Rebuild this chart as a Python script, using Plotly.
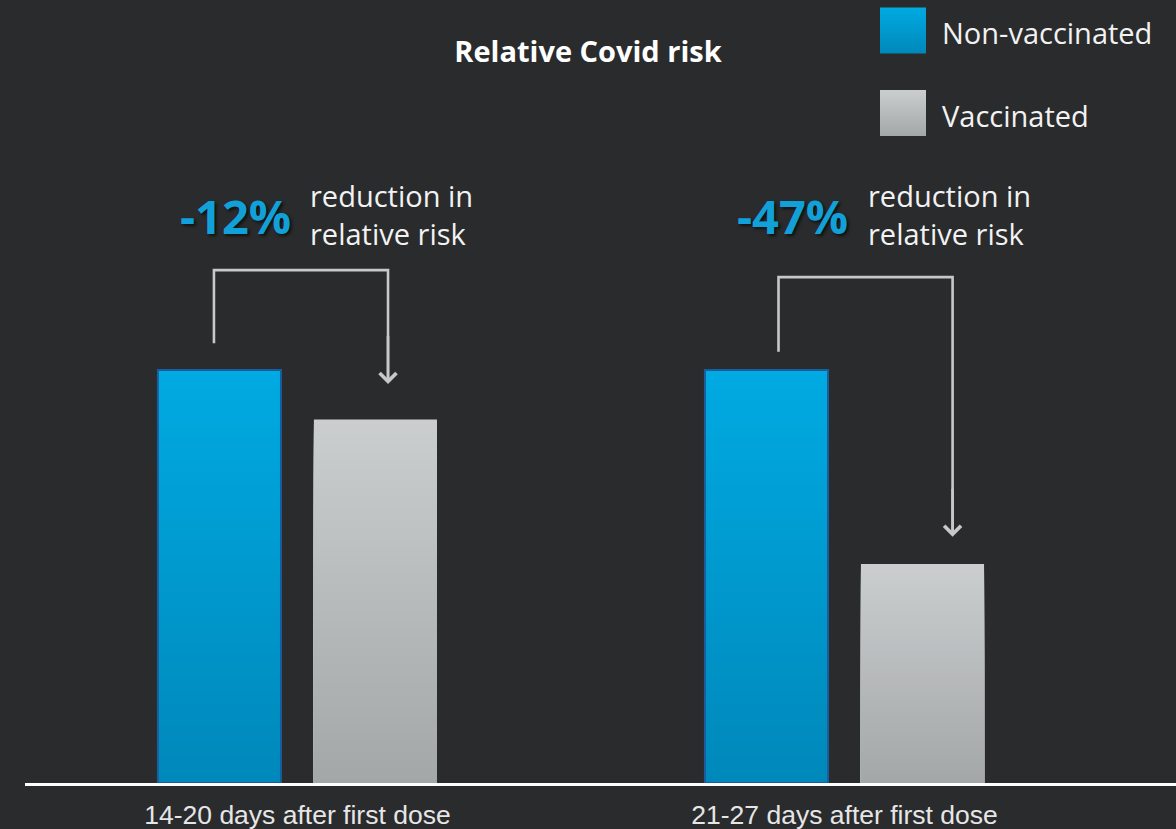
import plotly.graph_objects as go

# ---- data ----
periods = ["14-20 days after first dose", "21-27 days after first dose"]
series_names = ["Non-vaccinated", "Vaccinated"]
non_vaccinated = [1.00, 1.00]
vaccinated = [0.88, 0.53]
reduction_labels = ["-12%", "-47%"]
note_text = "reduction in<br>relative risk"

# ---- style ----
BG = "#2a2b2d"
BLUE_TOP, BLUE_BOTTOM = "#00aae2", "#0088ba"
GREY_TOP, GREY_BOTTOM = "#cbcecf", "#a4a7a8"
BLUE_EDGE = "#1b5c9c"
BRACKET = "#c6c8c9"
PCT_BLUE = "#12a0d8"
TEXT = "#f2f2f2"
FONT = "Open Sans"

W, H = 1176, 829
M_L, M_R, M_T, M_B = 25, 0, 0, 46
PLOT_W, PLOT_H = W - M_L - M_R, H - M_T - M_B

BAR_W = 0.225
BAR_OFF = 0.1426          # half distance between the two bars of a group
N_SLICES = 80


def hex_rgb(h):
    h = h.lstrip("#")
    return [int(h[i:i + 2], 16) for i in (0, 2, 4)]


def mix(c_bottom, c_top, f):
    a, b = hex_rgb(c_bottom), hex_rgb(c_top)
    return "rgb({},{},{})".format(*[round(a[i] + (b[i] - a[i]) * f) for i in range(3)])


fig = go.Figure()
x_pos = list(range(len(periods)))


def gradient_bars(values, shift, c_top, c_bottom, edge=None):
    xs = [x + shift for x in x_pos]
    # overlapping bars from the base, each shorter one drawn on top: a vertical gradient
    for k in range(N_SLICES):
        frac = (N_SLICES - k) / N_SLICES
        f_mid = (N_SLICES - k - 0.5) / N_SLICES
        fig.add_trace(go.Bar(
            x=xs, y=[v * frac for v in values], width=BAR_W,
            marker=dict(color=mix(c_bottom, c_top, f_mid), line=dict(width=0)),
            showlegend=False, hoverinfo="skip"))
    if edge:
        fig.add_trace(go.Bar(
            x=xs, y=values, width=BAR_W,
            marker=dict(color="rgba(0,0,0,0)", line=dict(color=edge, width=2)),
            showlegend=False, hoverinfo="skip"))


gradient_bars(non_vaccinated, -BAR_OFF, BLUE_TOP, BLUE_BOTTOM, edge=BLUE_EDGE)
gradient_bars(vaccinated, BAR_OFF, GREY_TOP, GREY_BOTTOM)

# ---- brackets from the non-vaccinated bar down to the vaccinated bar ----
stem_dx = [-0.010, 0.022]          # horizontal nudge of the left stem
drop_dx = [0.023, 0.055]           # horizontal nudge of the arrow stem
stem_gap = [0.065, 0.044]          # gap between bar top and stem start
bracket_level = [1.242, 1.225]
tip_gap = [0.086, 0.066]           # gap between arrow tip and vaccinated bar

for i, x in enumerate(x_pos):
    xl = x - BAR_OFF + stem_dx[i]
    xr = x + BAR_OFF + drop_dx[i]
    tip = vaccinated[i] + tip_gap[i]
    fig.add_trace(go.Scatter(
        x=[xl, xl, xr, xr],
        y=[non_vaccinated[i] + stem_gap[i], bracket_level[i], bracket_level[i], tip + 0.01],
        mode="lines", line=dict(color=BRACKET, width=2.6),
        showlegend=False, hoverinfo="skip"))
    fig.add_annotation(
        x=xr, y=tip, ax=xr, ay=tip + 0.12, xref="x", yref="y", axref="x", ayref="y",
        showarrow=True, arrowhead=4, arrowsize=1.25, arrowwidth=2.6,
        arrowcolor=BRACKET, standoff=0, text="")

# ---- reduction labels ----
pct_x = [-0.114, 0.905]
note_x = [0.019, 1.039]
label_y = 1.373
for i in range(len(periods)):
    fig.add_annotation(
        x=pct_x[i], y=label_y, xref="x", yref="y", showarrow=False,
        text="<b>{}</b>".format(reduction_labels[i]),
        font=dict(family=FONT, size=47, color=PCT_BLUE, shadow="2px 2px 3px #111"),
        xanchor="center", yanchor="middle")
    fig.add_annotation(
        x=note_x[i], y=label_y, xref="x", yref="y", showarrow=False,
        text=note_text, align="left",
        font=dict(family=FONT, size=29, color=TEXT),
        xanchor="left", yanchor="middle", yshift=1)

# ---- legend swatches (top right) ----
LEG_LEFT, LEG_ROWS_H = 880, 165
swatch_rows = list(range(len(series_names)))
fig.add_trace(go.Scatter(
    x=[0] * len(series_names), y=swatch_rows, xaxis="x2", yaxis="y2",
    mode="markers",
    marker=dict(symbol="square", size=46, color=[BLUE_TOP, GREY_TOP],
                line=dict(width=0),
                gradient=dict(type="vertical", color=[BLUE_BOTTOM, GREY_BOTTOM])),
    showlegend=False, hoverinfo="skip"))
for i, name in enumerate(series_names):
    fig.add_annotation(
        x=0.795, y=swatch_rows[i], xref="x2", yref="y2", showarrow=False,
        text=name, font=dict(family=FONT, size=29, color=TEXT),
        xanchor="left", yanchor="middle", yshift=-2)

fig.update_layout(
    width=W, height=H,
    paper_bgcolor=BG, plot_bgcolor=BG,
    margin=dict(l=M_L, r=M_R, t=M_T, b=M_B),
    barmode="overlay",
    showlegend=False,
    title=dict(text="<b>Relative Covid risk</b>", x=0.5, xanchor="center",
               y=1 - 52 / H, yanchor="middle", yref="container",
               font=dict(family=FONT, size=29, color="#ffffff")),
    xaxis=dict(range=[-0.498, 1.606], tickmode="array", tickvals=x_pos, ticktext=periods,
               showline=True, linecolor="#ffffff", linewidth=2.5, showgrid=False,
               zeroline=False, ticks="", ticklabelstandoff=6,
               tickfont=dict(family="Liberation Sans", size=26.5, color="#e6e6e6")),
    yaxis=dict(range=[0, 1.896], visible=False, showgrid=False, zeroline=False),
    xaxis2=dict(domain=[(LEG_LEFT - M_L) / PLOT_W, 1],
                range=[-0.5, (W - LEG_LEFT) / 46 - 0.5], visible=False,
                anchor="y2", fixedrange=True),
    yaxis2=dict(domain=[1 - LEG_ROWS_H / PLOT_H, 1], range=[1.63, -0.37], visible=False,
                anchor="x2", fixedrange=True),
)

fig.write_html("out.html")
